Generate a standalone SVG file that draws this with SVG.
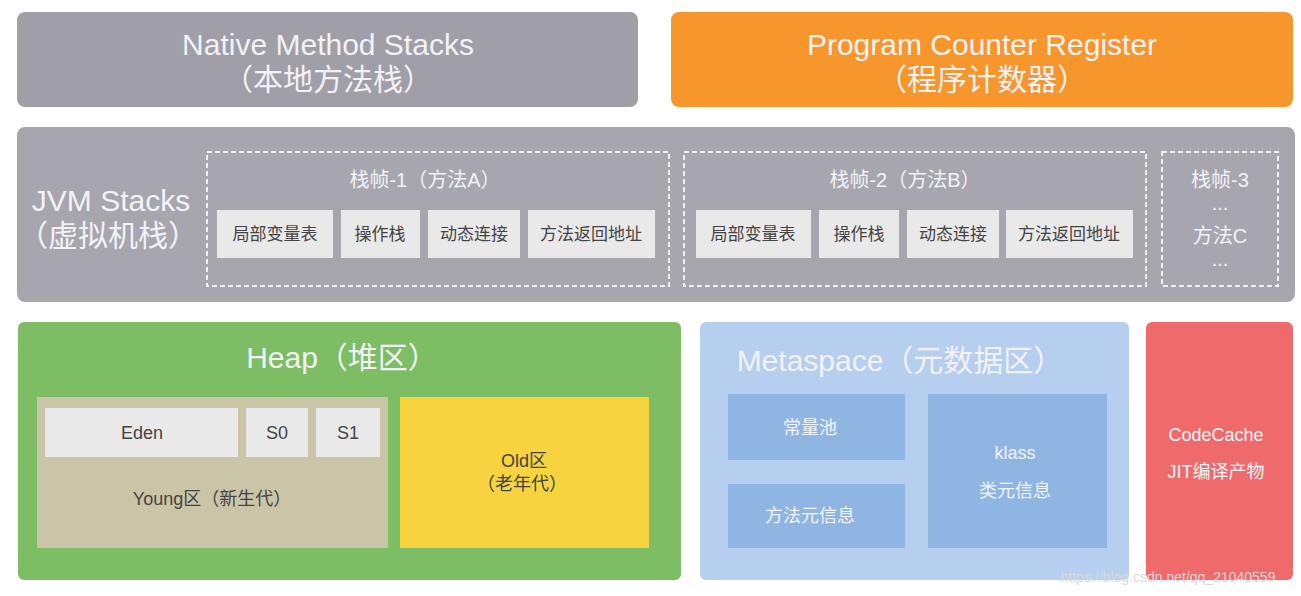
<svg xmlns="http://www.w3.org/2000/svg" width="1301" height="596" viewBox="0 0 1301 596">
<style>
text{font-family:"Liberation Sans","Noto Sans CJK SC",sans-serif;text-anchor:middle}
.big{font-size:30px;fill:#f2f2f6}
.mid{font-size:20px;fill:#f2f2f6}
.cell{fill:#e9e9ea}
.ct{font-size:17px;fill:#444}
.dash{fill:none;stroke:#f0f0f3;stroke-width:2;stroke-dasharray:5 3}
.mb{fill:#8fb5e2}
.mt{font-size:18px;fill:#f2f4fa}
.dk{font-size:18px;fill:#444}
</style>
<rect width="1301" height="596" fill="#ffffff"/>
<g id="native"><rect x="17" y="12" width="621" height="95" rx="8" fill="#a09fa7"/>
<text class="big" x="328" y="55">Native Method Stacks</text><text class="big" x="328" y="90">（本地方法栈）</text></g>
<g id="pc"><rect x="671" y="12" width="622" height="95" rx="8" fill="#f7962c"/>
<text class="big" x="982" y="55">Program Counter Register</text><text class="big" x="982" y="90">（程序计数器）</text></g>
<g id="jvmstacks"><rect x="17" y="127" width="1278" height="175" rx="8" fill="#a7a6ae"/>
<text class="big" x="111" y="211">JVM Stacks</text><text class="big" x="108" y="246">（虚拟机栈）</text></g>
<g id="frame1"><rect class="dash" x="207" y="152" width="462" height="134"/>
<text class="mid" x="425" y="187">栈帧-1（方法A）</text>
<rect class="cell" x="217" y="210" width="116" height="48"/><text class="ct" x="275" y="240">局部变量表</text>
<rect class="cell" x="341" y="210" width="79" height="48"/><text class="ct" x="380" y="240">操作栈</text>
<rect class="cell" x="428" y="210" width="92" height="48"/><text class="ct" x="474" y="240">动态连接</text>
<rect class="cell" x="528" y="210" width="127" height="48"/><text class="ct" x="591" y="240">方法返回地址</text></g>
<g id="frame2"><rect class="dash" x="684" y="152" width="462" height="134"/>
<text class="mid" x="905" y="187">栈帧-2（方法B）</text>
<rect class="cell" x="696" y="210" width="115" height="48"/><text class="ct" x="753" y="240">局部变量表</text>
<rect class="cell" x="819" y="210" width="80" height="48"/><text class="ct" x="859" y="240">操作栈</text>
<rect class="cell" x="907" y="210" width="92" height="48"/><text class="ct" x="953" y="240">动态连接</text>
<rect class="cell" x="1006" y="210" width="127" height="48"/><text class="ct" x="1069" y="240">方法返回地址</text></g>
<g id="frame3"><rect class="dash" x="1162" y="152" width="116" height="134"/>
<text class="mid" x="1220" y="187">栈帧-3</text><text class="mid" x="1220" y="210">...</text>
<text class="mid" x="1220" y="243">方法C</text><text class="mid" x="1220" y="266">...</text></g>
<g id="heap"><rect x="18" y="322" width="663" height="258" rx="6" fill="#7dbd63"/>
<text class="big" x="342" y="368">Heap（堆区）</text>
<rect x="37" y="397" width="351" height="151" fill="#cbc5a7"/>
<rect class="cell" x="45" y="408" width="193" height="49" fill="#eeece4"/><text class="dk" x="142" y="439">Eden</text>
<rect class="cell" x="246" y="408" width="62" height="49" fill="#eeece4"/><text class="dk" x="277" y="439">S0</text>
<rect class="cell" x="316" y="408" width="64" height="49" fill="#eeece4"/><text class="dk" x="348" y="439">S1</text>
<text class="dk" x="212" y="505">Young区（新生代）</text>
<rect x="400" y="397" width="249" height="151" fill="#f6d33f"/>
<text class="dk" x="524" y="467">Old区</text><text class="dk" x="522" y="490">（老年代）</text></g>
<g id="metaspace"><rect x="700" y="322" width="429" height="258" rx="6" fill="#b6cfee"/>
<text class="big" x="900" y="371">Metaspace（元数据区）</text>
<rect class="mb" x="728" y="394" width="177" height="66"/><text class="mt" x="810" y="434">常量池</text>
<rect class="mb" x="728" y="484" width="177" height="64"/><text class="mt" x="810" y="522">方法元信息</text>
<rect class="mb" x="928" y="394" width="179" height="154"/><text class="mt" x="1015" y="459">klass</text><text class="mt" x="1015" y="497">类元信息</text></g>
<g id="codecache"><rect x="1146" y="322" width="147" height="258" rx="6" fill="#ef6a6a"/>
<text class="mt" x="1216" y="441">CodeCache</text><text class="mt" x="1216" y="478">JIT编译产物</text></g>
<g id="connectors"/>
<text x="1168" y="582" style="font-size:14px;fill:#d8d8dc">https://blog.csdn.net/qq_21040559</text>
</svg>
